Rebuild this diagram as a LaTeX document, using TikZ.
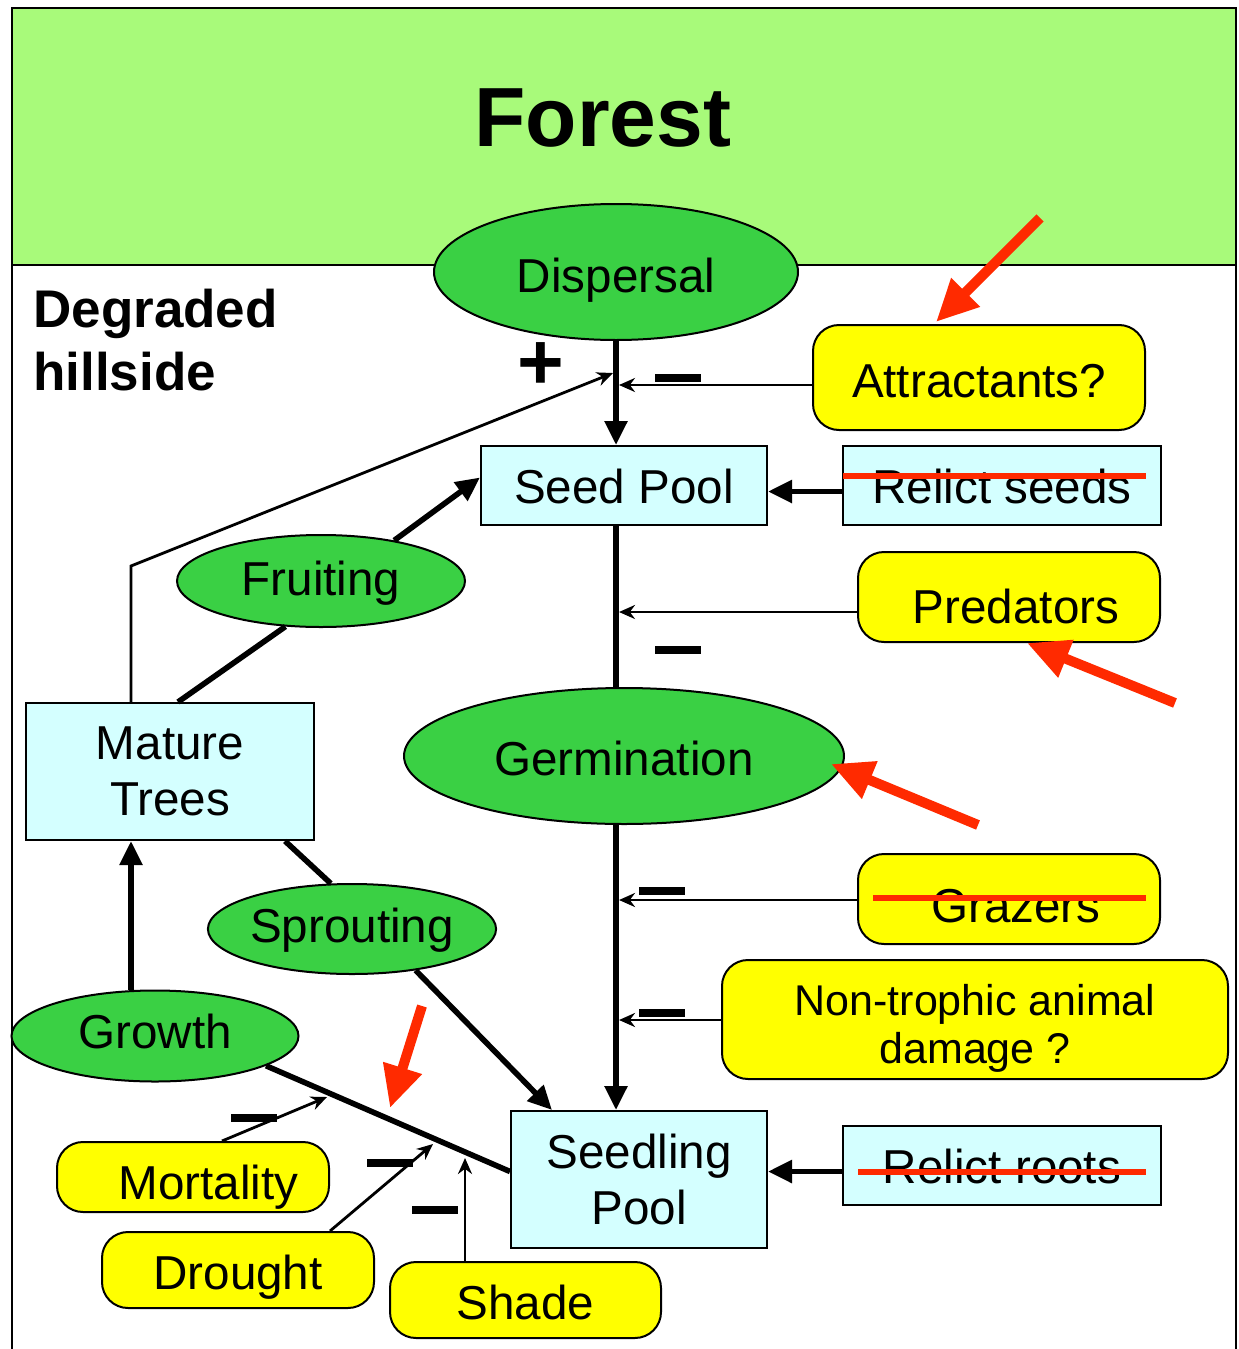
\documentclass[tikz,border=0pt]{standalone}
\usepackage{fontspec}
\setmainfont{Liberation Sans}
\usepackage{tikz}
\usetikzlibrary{arrows.meta,shapes.geometric}

\definecolor{forestgreen}{RGB}{168,250,122}
\definecolor{procgreen}{RGB}{58,208,68}
\definecolor{poolcyan}{RGB}{212,255,255}
\definecolor{factoryellow}{RGB}{255,255,0}
\definecolor{markred}{RGB}{255,42,0}

\begin{document}
\begin{tikzpicture}[x=0.5pt,y=-0.5pt,
    txt/.style={font=\fontsize{23.8pt}{28pt}\selectfont},
    base/.style={text height=#1,text depth=0pt},
    pool/.style={txt,draw,line width=1pt,fill=poolcyan,inner sep=0pt,align=center},
    proc/.style={txt,ellipse,draw,line width=1pt,fill=procgreen,inner sep=0pt},
    factor/.style={txt,draw,line width=1pt,fill=factoryellow,rounded corners=13pt,inner sep=0pt,align=center},
    link/.style={line width=2.8pt},
    flow/.style={link,-{Triangle[length=12pt,width=11pt]}},
    effect/.style={line width=1.4pt,-{Stealth[length=8pt,width=7pt]}},
    neg/.style={line width=4pt},
    strike/.style={markred,line width=3pt},
    pointer/.style={markred,line width=5pt,-{Triangle[length=21pt,width=19pt]}}]
    \useasboundingbox (0,0) rectangle (1238,1349);
    % frame and forest band
    \fill[forestgreen] (12,8) rectangle (1236,265);
    \draw[line width=1pt] (12,1349) -- (12,8) -- (1236,8) -- (1236,1349);
    \draw[line width=1pt] (12,265) -- (1236,265);
    \node[font=\bfseries\fontsize{42pt}{42pt}\selectfont] (forest) at (603,118) {Forest};
    \node[font=\bfseries\fontsize{26.5pt}{31.5pt}\selectfont,anchor=north west,align=left,inner sep=0pt] (hillside) at (33,289) {Degraded\\hillside};
    % processes
    \node[proc,base=20pt,minimum width=182pt,minimum height=68pt] (dispersal) at (616,272) {Dispersal};
    \node[proc,base=14pt,minimum width=144pt,minimum height=46pt] (fruiting) at (321,581) {Fruiting};
    \node[proc,base=19pt,minimum width=220pt,minimum height=68pt] (germination) at (624,756) {Germination};
    \node[proc,base=13pt,minimum width=144pt,minimum height=45pt] (sprouting) at (352,929) {Sprouting};
    \node[proc,base=12pt,minimum width=143.5pt,minimum height=45.5pt] (growth) at (155,1036) {Growth};
    % pools
    \node[pool,base=17.5pt,minimum width=143pt,minimum height=39.5pt] (seedpool) at (624,485.5) {Seed Pool};
    \node[pool,base=17.5pt,minimum width=159pt,minimum height=39.5pt] (relseeds) at (1002,485.5) {Relict seeds};
    \node[pool,minimum width=144pt,minimum height=68.5pt] (mature) at (170,771.5) {Mature\\Trees};
    \node[pool,minimum width=128pt,minimum height=68.5pt] (seedling) at (639,1179.5) {Seedling\\Pool};
    \node[pool,base=17.5pt,minimum width=159pt,minimum height=39.5pt] (relroots) at (1002,1165.5) {Relict roots};
    % factors
    \node[factor,base=19.5pt,minimum width=166pt,minimum height=52.5pt] (attractants) at (979,377.5) {Attractants?};
    \node[factor,base=26pt,minimum width=151pt,minimum height=45pt] (predators) at (1009,597) {\hspace*{7pt}Predators};
    \node[factor,base=23.5pt,minimum width=151pt,minimum height=45pt] (grazers) at (1009,899) {\hspace*{7pt}Grazers};
    \node[factor,minimum width=253pt,minimum height=59.5pt,font=\fontsize{21.5pt}{24pt}\selectfont] (damage) at (975,1019.5) {\rule{0pt}{24pt}Non-trophic animal\\damage ?};
    \node[factor,base=22pt,minimum width=136pt,minimum height=35pt] (mortality) at (193,1177) {\hspace*{15.5pt}Mortality};
    \node[factor,base=19.5pt,minimum width=136pt,minimum height=38pt] (drought) at (238,1270) {Drought};
    \node[factor,base=19pt,minimum width=135.5pt,minimum height=38pt] (shade) at (525.5,1300) {Shade};
    % junctions on the links
    \coordinate (jfeed) at (613,373);
    \coordinate (jattract) at (619,385);
    \coordinate (jpred) at (619,612);
    \coordinate (jgraze) at (619,900);
    \coordinate (jdamage) at (619,1020);
    \coordinate (jmort) at (327,1097);
    \coordinate (jdrought) at (433,1144);
    \coordinate (jshade) at (465,1158);
    \coordinate (treefoot) at ([xshift=53pt]mature.south west);
    % main chain
    \draw[flow] (dispersal.south) -- (dispersal.south |- seedpool.north);
    \draw[link] (dispersal.south |- seedpool.south) -- (dispersal.south |- germination.north);
    \draw[flow] (dispersal.south |- germination.south) -- (dispersal.south |- seedling.north);
    \draw[flow] ([yshift=-3pt]relseeds.west) -- ([yshift=-3pt]seedpool.east);
    \draw[flow] ([yshift=-3pt]relroots.west) -- ([yshift=-3pt]relroots.west -| seedling.east);
    % trees
    \draw[link] ([xshift=4pt]mature.north) -- (fruiting.232);
    \draw[flow] (fruiting.29) -- ([yshift=4pt]seedpool.west);
    \draw[link] ([xshift=-15pt]mature.south east) -- (sprouting.115);
    \draw[flow] (sprouting.-33) -- ([xshift=21pt]seedling.north west);
    \draw[flow] (growth.north -| treefoot) -- (treefoot);
    \draw[link] ([yshift=4pt]seedling.west) -- (growth.-15);
    \draw[effect] ([xshift=53pt]mature.north west) -- ++(0,-136) -- (jfeed);
    % effects
    \draw[effect] (attractants.west |- jattract) -- (jattract);
    \draw[effect] (predators.west |- jpred) -- (jpred);
    \draw[effect] (grazers.west |- jgraze) -- (jgraze);
    \draw[effect] (damage.west |- jdamage) -- (jdamage);
    \draw[effect] ([xshift=14.5pt]mortality.north) -- (jmort);
    \draw[effect] ([xshift=46pt]drought.north) -- (jdrought);
    \draw[effect] (shade.north -| jshade) -- (jshade);
    % signs
    \node[font=\bfseries\fontsize{40pt}{40pt}\selectfont,inner sep=0pt] (plus) at (541,366) {+};
    \draw[neg] (655,378) -- (701,378);
    \draw[neg] (655,650) -- (701,650);
    \draw[neg] (639,891) -- (685,891);
    \draw[neg] (639,1013) -- (685,1013);
    \draw[neg] (231,1118) -- (277,1118);
    \draw[neg] (367,1163) -- (413,1163);
    \draw[neg] (412,1210) -- (458,1210);
    % struck out
    \draw[strike] (843,476) -- (1146,476);
    \draw[strike] (873,898) -- (1146,898);
    \draw[strike] (858,1172) -- (1146,1172);
    % red pointers
    \coordinate (ptattract) at (1040,218);
    \coordinate (ptpred) at (1175,703);
    \coordinate (ptgerm) at (978,825);
    \coordinate (ptgrowth) at (422,1006);
    \coordinate (tipgrowth) at (390,1108);
    \draw[pointer] (ptattract) -- ([xshift=62pt,yshift=1pt]attractants.north west);
    \draw[pointer] (ptpred) -- ([xshift=85pt]predators.south west);
    \draw[pointer] (ptgerm) -- ([xshift=-7pt,yshift=-4pt]germination.east);
    \draw[pointer] (ptgrowth) -- (tipgrowth);
\end{tikzpicture}
\end{document}
